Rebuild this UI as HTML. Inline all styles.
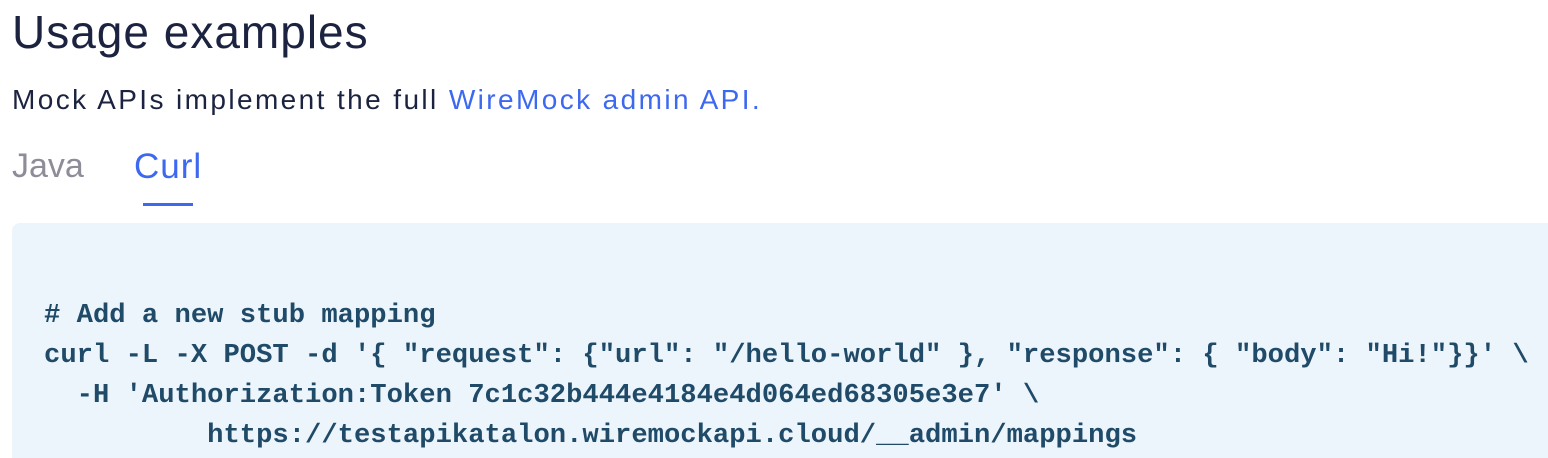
<!DOCTYPE html>
<html><head><style>
html,body{margin:0;width:1548px;height:458px;overflow:hidden;background:#fff;font-family:"Liberation Sans",sans-serif;position:relative}
.a{position:absolute;white-space:pre}
</style></head><body>
<div class="a" style="left:12px;top:5px;font-size:46px;letter-spacing:1px;color:#1c2340;">Usage examples</div>
<div class="a" style="left:12px;top:84px;font-size:28px;letter-spacing:2.4px;color:#1c2340;">Mock APIs implement the full <span style="color:#3d68f0">WireMock admin API.</span></div>
<div class="a" style="left:12px;top:147px;font-size:34px;color:#8e8c99;">Java</div>
<div class="a" style="left:134px;top:147px;font-size:35px;letter-spacing:1px;color:#3d68f0;">Curl</div>
<div class="a" style="left:143px;top:203px;width:50px;height:3px;background:#3d68f0"></div>
<div class="a" style="left:12px;top:223px;width:1536px;height:235px;background:#edf5fc;border-top-left-radius:8px"></div>
<div class="a" style="left:44px;top:296px;font-family:'Liberation Mono',monospace;font-weight:bold;font-size:27.2px;line-height:40px;color:#1f4a68;"># Add a new stub mapping
curl -L -X POST -d '{ "request": {"url": "/hello-world" }, "response": { "body": "Hi!"}}' \
  -H 'Authorization:Token 7c1c32b444e4184e4d064ed68305e3e7' \
          https://testapikatalon.wiremockapi.cloud/__admin/mappings</div>
</body></html>
